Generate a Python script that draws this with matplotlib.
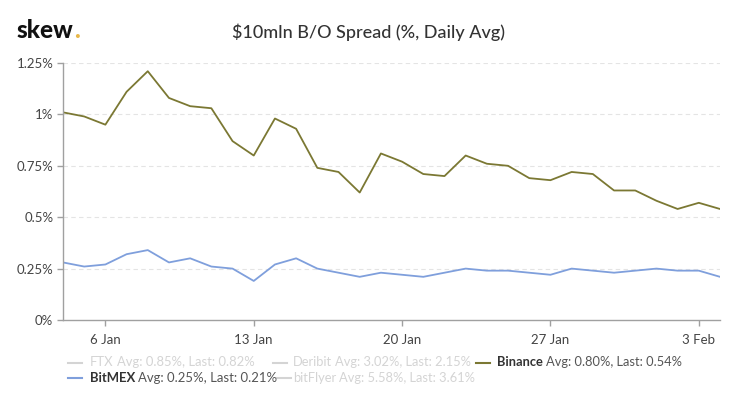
import matplotlib
matplotlib.use("Agg")
import matplotlib.pyplot as plt
from matplotlib.lines import Line2D
import pandas as pd

plt.rcParams['font.family'] = ['Lato', 'DejaVu Sans']

dates = pd.date_range("2020-01-04", "2020-02-04", freq="D")
binance = [1.01, 0.99, 0.95, 1.11, 1.21, 1.08, 1.04, 1.03, 0.87, 0.80,
           0.98, 0.93, 0.74, 0.72, 0.62, 0.81, 0.77, 0.71, 0.70, 0.80,
           0.76, 0.75, 0.69, 0.68, 0.72, 0.71, 0.63, 0.63, 0.58, 0.54,
           0.57, 0.54]
bitmex = [0.28, 0.26, 0.27, 0.32, 0.34, 0.28, 0.30, 0.26, 0.25, 0.19,
          0.27, 0.30, 0.25, 0.23, 0.21, 0.23, 0.22, 0.21, 0.23, 0.25,
          0.24, 0.24, 0.23, 0.22, 0.25, 0.24, 0.23, 0.24, 0.25, 0.24,
          0.24, 0.21]
yticks = [0, 0.25, 0.5, 0.75, 1.0, 1.25]
ytick_labels = ["0%", "0.25%", "0.5%", "0.75%", "1%", "1.25%"]
xtick_dates = pd.to_datetime(["2020-01-06", "2020-01-13", "2020-01-20", "2020-01-27", "2020-02-03"])
xtick_labels = ["6 Jan", "13 Jan", "20 Jan", "27 Jan", "3 Feb"]

legend_names = ["FTX", "Deribit", "Binance", "BitMEX", "bitFlyer"]
legend_rest = ["Avg: 0.85%, Last: 0.82%", "Avg: 3.02%, Last: 2.15%",
               "Avg: 0.80%, Last: 0.54%", "Avg: 0.25%, Last: 0.21%",
               "Avg: 5.58%, Last: 3.61%"]
legend_visible = [False, False, True, True, False]
colors = {"Binance": "#7b7833", "BitMEX": "#7f9fdc"}

# legend layout (pixels)
swatch_x = [68, 273, 476, 68, 277]
text_x = [90, 293, 497, 90, 293]
text_end = [255, 473, 683, 276, 477]
rows = [0, 0, 0, 1, 1]
row_y = [362.5, 377.5]

W, H = 736, 398
fig = plt.figure(figsize=(W / 100, H / 100), dpi=100)
fig.patch.set_facecolor("white")
ax = fig.add_axes([63 / W, 1 - 320 / H, (720 - 63) / W, (320 - 63) / H])

ax.plot(dates, binance, color=colors["Binance"], lw=1.3)
ax.plot(dates, bitmex, color=colors["BitMEX"], lw=1.3)

ax.set_xlim(dates[0], dates[-1])
ax.set_ylim(0, 1.25)
ax.set_yticks(yticks)
ax.set_yticklabels(ytick_labels)
ax.set_xticks(xtick_dates)
ax.set_xticklabels(xtick_labels)
for s in ["top", "right"]:
    ax.spines[s].set_visible(False)
for s in ["left", "bottom"]:
    ax.spines[s].set_color("#a0a0a0")
    ax.spines[s].set_linewidth(1.0)
ax.tick_params(axis="both", colors="#a0a0a0", labelcolor="#444444", labelsize=9.5,
               length=4, width=1.0)
ax.tick_params(axis="x", pad=6)
ax.tick_params(axis="y", pad=3)
for y in yticks[1:]:
    ax.axhline(y, color="#e4e4e4", lw=0.8, ls=(0, (4, 3)), zorder=0)

# Title and logo
fig.text(369 / W, 1 - 32 / H, "\\$10mln B/O Spread (%, Daily Avg)", ha="center", va="center",
         fontsize=13, color="#333333", fontweight="medium")
t = fig.text(17 / W, 1 - 31 / H, "skew", ha="left", va="center", fontsize=17.5,
             fontweight="black", color="#111111")
fig.canvas.draw()
r = fig.canvas.get_renderer()
bb = t.get_window_extent(r)
fig.text(bb.x1 / W + 0.5 / W, 1 - 31 / H, ".", ha="left", va="center", fontsize=17.5,
         fontweight="black", color="#e8b84a")

# Legend
for i, name in enumerate(legend_names):
    y = 1 - row_y[rows[i]] / H
    vis = legend_visible[i]
    if vis:
        lc = colors[name]
        nc = "#333333"
        rc = "#555555"
    else:
        lc = nc = rc = "#d4d4d4"
    sx = swatch_x[i]
    fig.add_artist(Line2D([sx / W, (sx + 14) / W], [y, y], color=lc, lw=1.5,
                          transform=fig.transFigure))
    fs = 9.5
    for it in range(5):
        tn = fig.text(text_x[i] / W, y, name, ha="left", va="center", fontsize=fs,
                      color=nc, fontweight="bold" if vis else "normal")
        b = tn.get_window_extent(r)
        tr = fig.text(b.x1 / W + 3 / W, y, legend_rest[i], ha="left", va="center",
                      fontsize=fs, color=rc)
        e = tr.get_window_extent(r)
        width = e.x1 - text_x[i]
        target = text_end[i] - text_x[i]
        if abs(width - target) < 2 or it == 4:
            break
        tn.remove()
        tr.remove()
        fs = min(fs * target / width, 11.0)

fig.savefig("out.png", dpi=100, facecolor="white")
